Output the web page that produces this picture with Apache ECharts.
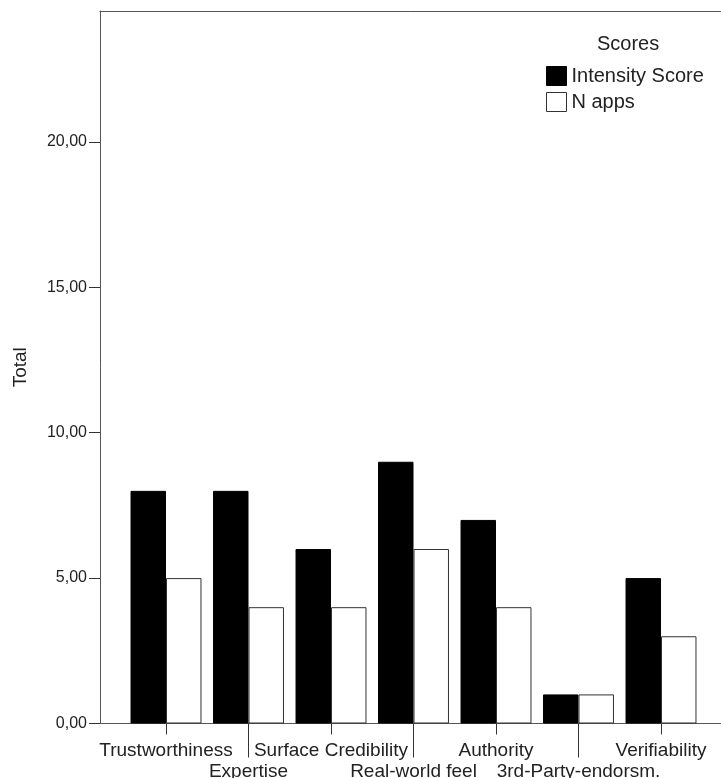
<!DOCTYPE html>
<html>
<head>
<meta charset="utf-8">
<script src="https://cdn.jsdelivr.net/npm/echarts@6/dist/echarts.min.js"></script>
<style>
html,body{margin:0;padding:0;background:#fff;}
#chart{width:721px;height:778px;}
</style>
</head>
<body>
<div id="chart"></div>
<script>
var categories = ['Trustworthiness','Expertise','Surface Credibility','Real-world feel','Authority','3rd-Party-endorsm.','Verifiability'];
var intensityScore = [8, 8, 6, 9, 7, 1, 5];
var nApps = [5, 4, 4, 6, 4, 1, 3];
var yTicks = [0, 5, 10, 15, 20];
var seriesNames = ['Intensity Score', 'N apps'];

var FONT = "'Liberation Sans', Arial, sans-serif";
var yMax = 24.5;
var chart = echarts.init(document.getElementById('chart'));
var gridTop = 11, gridBottom = 54.5;
var frameLine = {show: true, lineStyle: {color: '#555', width: 1}};

chart.setOption({
  backgroundColor: '#fff',
  animation: false,
  title: {
    text: 'Scores',
    left: 592, top: 29,
    textStyle: {fontFamily: FONT, fontSize: 20, fontWeight: 'normal', color: '#222'}
  },
  legend: {
    orient: 'vertical',
    left: 541, top: 61,
    itemWidth: 20, itemHeight: 19, itemGap: 6,
    icon: 'rect',
    textStyle: {fontFamily: FONT, fontSize: 20, color: '#222'},
    data: [
      {name: seriesNames[0], itemStyle: {color: '#000', borderColor: '#000', borderWidth: 1}},
      {name: seriesNames[1], itemStyle: {color: '#fff', borderColor: '#333', borderWidth: 1}}
    ]
  },
  grid: [
    {left: 100, width: 680, top: gridTop, bottom: gridBottom, outerBoundsMode: 'none', containLabel: false},
    {left: 124.75, width: 577.5, top: gridTop, bottom: gridBottom, outerBoundsMode: 'none', containLabel: false}
  ],
  xAxis: [
    {gridIndex: 0, type: 'value', min: 0, max: 1, position: 'bottom',
      axisLine: frameLine, axisTick: {show: false}, axisLabel: {show: false}, splitLine: {show: false}},
    {
      gridIndex: 1, type: 'category', data: categories, position: 'bottom',
      axisLine: {show: false},
      axisTick: {show: true, alignWithLabel: true, length: 11, lineStyle: {color: '#333', width: 1}},
      axisLabel: {
        interval: 0, margin: 17, color: '#222', fontFamily: FONT, fontSize: 19, lineHeight: 21,
        formatter: function (v, i) { return i % 2 ? '\n' + v : v; }
      }
    },
    {
      gridIndex: 1, type: 'category', data: categories, position: 'bottom',
      axisLine: {show: false},
      axisTick: {show: true, alignWithLabel: true, length: 34,
        interval: function (i) { return i % 2 === 1; },
        lineStyle: {color: '#333', width: 1}},
      axisLabel: {show: false}
    },
    {gridIndex: 0, type: 'value', min: 0, max: 1, position: 'top',
      axisLine: frameLine, axisTick: {show: false}, axisLabel: {show: false}, splitLine: {show: false}}
  ],
  yAxis: [
    {
      gridIndex: 0, type: 'value', min: 0, max: yMax, interval: 5,
      name: 'Total', nameLocation: 'middle', nameGap: 70,
      nameTextStyle: {fontFamily: FONT, fontSize: 19, color: '#222'},
      axisLine: frameLine,
      splitLine: {show: false},
      axisTick: {show: true, length: 11, customValues: yTicks, lineStyle: {color: '#333'}},
      axisLabel: {
        customValues: yTicks, margin: 13, color: '#222', fontFamily: FONT, fontSize: 16,
        formatter: function (v) { return v.toFixed(2).replace('.', ','); }
      }
    },
    {gridIndex: 1, type: 'value', min: 0, max: yMax, show: false}
  ],
  series: [
    {
      name: seriesNames[0], type: 'bar', xAxisIndex: 1, yAxisIndex: 1,
      data: intensityScore, barGap: '0%', barCategoryGap: '14%',
      itemStyle: {color: '#000', borderColor: '#000', borderWidth: 1}
    },
    {
      name: seriesNames[1], type: 'bar', xAxisIndex: 1, yAxisIndex: 1,
      data: nApps, barGap: '0%', barCategoryGap: '14%',
      itemStyle: {color: '#fff', borderColor: '#333', borderWidth: 1}
    }
  ]
});
</script>
</body>
</html>
